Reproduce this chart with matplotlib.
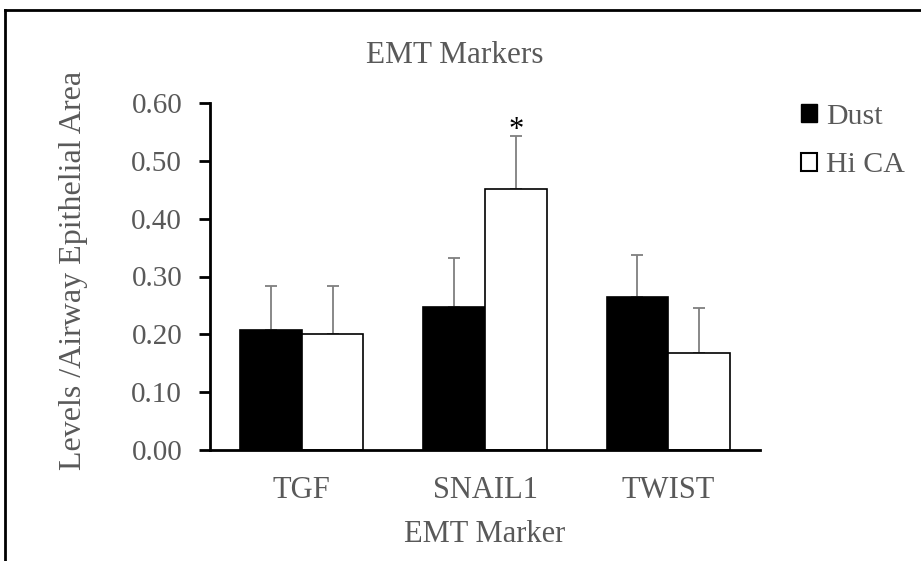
import matplotlib
matplotlib.use("Agg")
import matplotlib.pyplot as plt
import numpy as np
from matplotlib.lines import Line2D
from matplotlib.patches import Rectangle

categories = ["TGF", "SNAIL1", "TWIST"]
dust = [0.207, 0.248, 0.265]
dust_err = [0.076, 0.084, 0.072]
hica = [0.200, 0.452, 0.168]
hica_err = [0.083, 0.091, 0.078]
yticks = [0.0, 0.1, 0.2, 0.3, 0.4, 0.5, 0.6]

plt.rcParams['font.family'] = ['Liberation Serif', 'DejaVu Serif']
gray = '#595959'

W, H = 921, 561
fig = plt.figure(figsize=(W/100, H/100), dpi=100)
ax = fig.add_axes([210/W, 1-450/H, 550/W, (450-103)/H])

x = np.arange(len(categories))
w = 0.337
ax.bar(x - w/2, dust, w, color='black', edgecolor='black', linewidth=1.2, zorder=2)
ax.bar(x + w/2, hica, w, color='white', edgecolor='black', linewidth=1.2, zorder=2)
ax.errorbar(x - w/2, dust, yerr=[np.zeros(3), dust_err], fmt='none', ecolor='#7f7f7f',
            elinewidth=1.3, capsize=4, capthick=1.3, zorder=1)
ax.errorbar(x + w/2, hica, yerr=[np.zeros(3), hica_err], fmt='none', ecolor='#7f7f7f',
            elinewidth=1.3, capsize=4, capthick=1.3, zorder=1)
ax.text(1 + w/2, hica[1] + hica_err[1] - 0.003, '*', ha='center', va='baseline',
        fontsize=22, color='black')

ax.set_xlim(-0.5, 2.5)
ax.set_ylim(0, 0.6)
ax.set_yticks(yticks)
ax.set_yticklabels([f"{t:.2f}" for t in yticks])
ax.set_xticks(x)
ax.set_xticklabels(categories)
for s in ['top', 'right']:
    ax.spines[s].set_visible(False)
for s in ['left', 'bottom']:
    ax.spines[s].set_linewidth(2)
    ax.spines[s].set_color('black')
ax.tick_params(axis='y', direction='out', length=8, width=2, colors='black',
               labelcolor=gray, labelsize=21, pad=12)
ax.tick_params(axis='x', length=0, labelcolor=gray, labelsize=22, pad=19)

fig.text(485/W, 1-542/H, 'EMT Marker', color=gray, fontsize=22, ha='center', va='baseline')
fig.text(74/W, 1-270/H, 'Levels /Airway Epithelial Area', color=gray, fontsize=23,
         rotation=90, ha='center', va='center')
fig.text(455/W, 1-63/H, 'EMT Markers', color=gray, fontsize=22.5, ha='center', va='baseline')

handles = [Rectangle((0, 0), 1, 1, facecolor='black', edgecolor='black'),
           Rectangle((0, 0), 1, 1, facecolor='white', edgecolor='black', linewidth=1.5)]
leg = fig.legend(handles, ['Dust', 'Hi CA'], loc='upper left', bbox_to_anchor=(801/W, 1-104/H),
                 frameon=False, fontsize=21.5, handlelength=0.55, handleheight=0.55,
                 handletextpad=0.3, labelspacing=0.75, borderaxespad=0, borderpad=0)
for t in leg.get_texts():
    t.set_color(gray)

# figure border (cropped frame)
fig.add_artist(Line2D([5/W, 5/W], [0, 1-10/H], color='black', lw=2, transform=fig.transFigure))
fig.add_artist(Line2D([5/W, 1], [1-10/H, 1-10/H], color='black', lw=2, transform=fig.transFigure))

fig.savefig('out.png', dpi=100)
